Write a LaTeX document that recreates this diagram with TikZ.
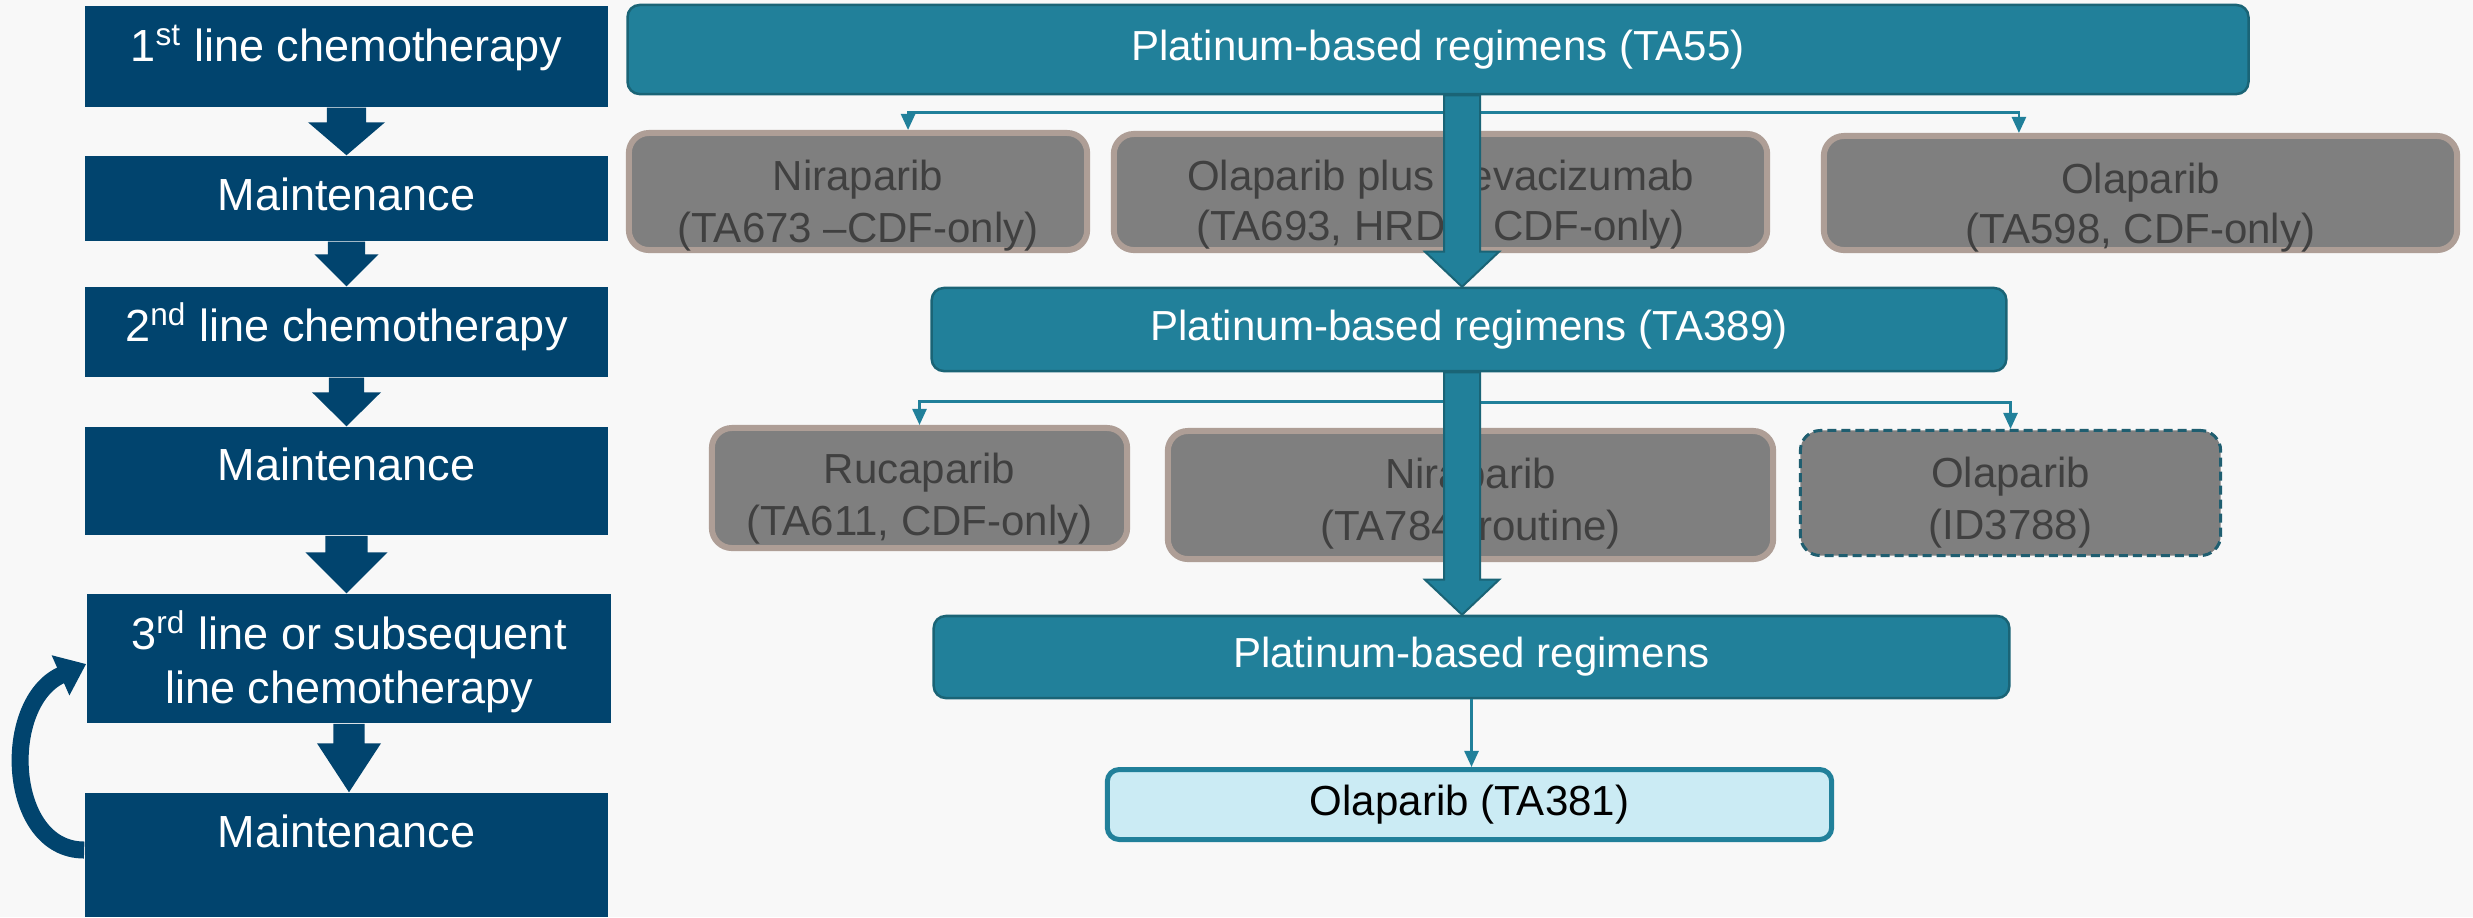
\documentclass[tikz,border=0pt]{standalone}
\usepackage{fontspec}
\setmainfont{Liberation Sans}
\usetikzlibrary{arrows.meta}
\definecolor{bgc}{HTML}{F8F8F8}
\definecolor{navy}{HTML}{01446E}
\definecolor{tealA}{HTML}{21809A}
\definecolor{tealdark}{HTML}{1A6476}
\definecolor{greyfill}{HTML}{7F7F7F}
\definecolor{greyedge}{HTML}{AE9E96}
\definecolor{greytxt}{HTML}{404040}
\definecolor{dashedge}{HTML}{1F5E70}
\definecolor{lightfill}{HTML}{CBEBF4}
% block arrow pointing down: style, tail, tip, half shaft, half head, head length
\newcommand\blockdown[6]{%
  \filldraw[#1] ([xshift=-#4]#2) -- ([xshift=#4]#2) -- ([xshift=#4,yshift=#6]#3)
    -- ([xshift=#5,yshift=#6]#3) -- (#3) -- ([xshift=-#5,yshift=#6]#3)
    -- ([xshift=-#4,yshift=#6]#3) -- cycle;}
\begin{document}
\begin{tikzpicture}[x=0.01cm,y=-0.01cm,
  leftbox/.style={fill=navy, draw=none, minimum width=5.23cm, inner sep=0pt},
  lefttext/.style={text=white, font=\fontsize{0.45cm}{0.54cm}\selectfont, anchor=base, inner sep=0pt},
  tealbox/.style={fill=tealA, draw=tealdark, line width=0.025cm, rounded corners=0.12cm,
    text=white, font=\fontsize{0.42cm}{0.5cm}\selectfont, inner sep=0pt},
  greybox/.style={fill=greyfill, draw=greyedge, line width=0.06cm, rounded corners=0.2cm, inner sep=0pt},
  dashbox/.style={fill=greyfill, draw=dashedge, line width=0.03cm, dash pattern=on 0.09cm off 0.05cm,
    rounded corners=0.2cm, inner sep=0pt},
  greytext/.style={text=greytxt, font=\fontsize{0.42cm}{0.5cm}\selectfont, anchor=base, inner sep=0pt},
  lightbox/.style={fill=lightfill, draw=tealA, line width=0.05cm, rounded corners=0.12cm,
    text=black, font=\fontsize{0.42cm}{0.5cm}\selectfont, inner sep=0pt},
  conn/.style={draw=tealA, line width=0.025cm, -{Triangle[length=0.16cm,width=0.14cm]}},
  navyarrow/.style={fill=navy, draw=none},
  tealarrow/.style={fill=tealA, draw=tealdark, line width=0.02cm, line join=miter},
  looparrow/.style={draw=navy, line width=0.17cm, -{Triangle[length=0.28cm,width=0.42cm]}}
]
\useasboundingbox (0,0) rectangle (2473,917);
\fill[bgc] (0,0) rectangle (2473,917);

% ---- left column ----
\node[leftbox, minimum height=1.01cm] (b1) at (346.5,56.5) {};
\node[leftbox, minimum height=0.85cm] (b2) at (346.5,198.5) {};
\node[leftbox, minimum height=0.90cm] (b3) at (346.5,332) {};
\node[leftbox, minimum height=1.08cm] (b4) at (346.5,481) {};
\node[leftbox, minimum width=5.24cm, minimum height=1.29cm] (b5) at (349,658.5) {};
\node[leftbox, minimum height=1.24cm] (b6) at (346.5,855) {};

\node[lefttext] (t1) at (346.5,61) {1\textsuperscript{st} line chemotherapy};
\node[lefttext] (t2) at (346.5,210) {Maintenance};
\node[lefttext] (t3) at (346.5,341) {2\textsuperscript{nd} line chemotherapy};
\node[lefttext] (t4) at (346.5,480) {Maintenance};
\node[lefttext] (t5a) at (349,649) {3\textsuperscript{rd} line or subsequent};
\node[lefttext] (t5b) at (349,703) {line chemotherapy};
\node[lefttext] (t6) at (346.5,847) {Maintenance};

\coordinate (l1s) at (b1.south); \coordinate (l1e) at (b1.south |- b2.north);
\coordinate (l2s) at (b2.south); \coordinate (l2e) at (b2.south |- b3.north);
\coordinate (l3s) at (b3.south); \coordinate (l3e) at (b3.south |- b4.north);
\coordinate (l4s) at (b4.south); \coordinate (l4e) at (b4.south |- b5.north);
\coordinate (l5s) at (b5.south); \coordinate (l5e) at (b5.south |- b6.north);
\blockdown{navyarrow}{l1s}{l1e}{0.195cm}{0.385cm}{0.33cm}
\blockdown{navyarrow}{l2s}{l2e}{0.185cm}{0.32cm}{0.32cm}
\blockdown{navyarrow}{l3s}{l3e}{0.175cm}{0.345cm}{0.34cm}
\blockdown{navyarrow}{l4s}{l4e}{0.21cm}{0.41cm}{0.41cm}
\blockdown{navyarrow}{l5s}{l5e}{0.155cm}{0.32cm}{0.49cm}

\draw[looparrow] ([yshift=0.05cm]b6.west) .. controls +(-78,0) and +(-86,38) .. ([yshift=-0.055cm]b5.west);

% ---- right part: boxes ----
\node[tealbox, minimum width=16.2cm, minimum height=0.89cm] (top) at (1438,49.5) {Platinum-based regimens (TA55)};
\node[tealbox, minimum width=10.74cm, minimum height=0.83cm] (p2) at (1469,329.5) {Platinum-based regimens (TA389)};
\node[tealbox, minimum width=10.75cm, minimum height=0.82cm] (p3) at (1471.5,657) {Platinum-based regimens};
\node[lightbox, minimum width=7.24cm, minimum height=0.70cm] (o4) at (1469.5,804.5) {Olaparib (TA381)};

\node[greybox, minimum width=4.58cm, minimum height=1.17cm] (n1) at (858,191.5) {};
\node[greybox, minimum width=6.53cm, minimum height=1.16cm] (n2) at (1440.5,192) {};
\node[greybox, minimum width=6.33cm, minimum height=1.14cm] (n3) at (2140.5,193) {};
\node[greybox, minimum width=4.15cm, minimum height=1.20cm] (r1) at (919.5,488) {};
\node[greybox, minimum width=6.05cm, minimum height=1.28cm] (r2) at (1470.5,495) {};
\node[dashbox, minimum width=4.20cm, minimum height=1.25cm] (r3) at (2010.5,493) {};

\node[greytext] (n1a) at (858,190) {Niraparib};
\node[greytext] (n1b) at (858,242) {(TA673 –CDF-only)};
\node[greytext] (n2a) at (1440.5,190) {Olaparib plus bevacizumab};
\node[greytext] (n2b) at (1440.5,240) {(TA693, HRD+, CDF-only)};
\node[greytext] (n3a) at (2140.5,193) {Olaparib};
\node[greytext] (n3b) at (2140.5,243) {(TA598, CDF-only)};
\node[greytext] (r1a) at (919.5,483) {Rucaparib};
\node[greytext] (r1b) at (919.5,535) {(TA611, CDF-only)};
\node[greytext] (r2a) at (1470.5,488) {Niraparib};
\node[greytext] (r2b) at (1470.5,540) {(TA784, routine)};
\node[greytext] (r3a) at (2010.5,487) {Olaparib};
\node[greytext] (r3b) at (2010.5,539) {(ID3788)};

% ---- connectors ----
\coordinate (a1tail) at ([xshift=0.24cm]top.south);
\coordinate (a1tip) at (a1tail |- p2.north);
\coordinate (a2tail) at (a1tail |- p2.south);
\coordinate (a2tip) at (a1tail |- p3.north);

\draw[conn] (a1tail) -- ++(0,17) -| ([xshift=0.5cm]n1.north);
\draw[conn] (a1tail) -- ++(0,17) -| ([xshift=-1.215cm]n3.north);
\draw[conn] (a2tail) -- ++(0,29) -| (r1.north);
\draw[conn] (a2tail) -- ++(0,30) -| (r3.north);
\draw[conn] (p3.south) -- (p3.south |- o4.north);

\blockdown{tealarrow}{a1tail}{a1tip}{0.18cm}{0.37cm}{0.35cm}
\blockdown{tealarrow}{a2tail}{a2tip}{0.18cm}{0.37cm}{0.35cm}
\end{tikzpicture}
\end{document}
